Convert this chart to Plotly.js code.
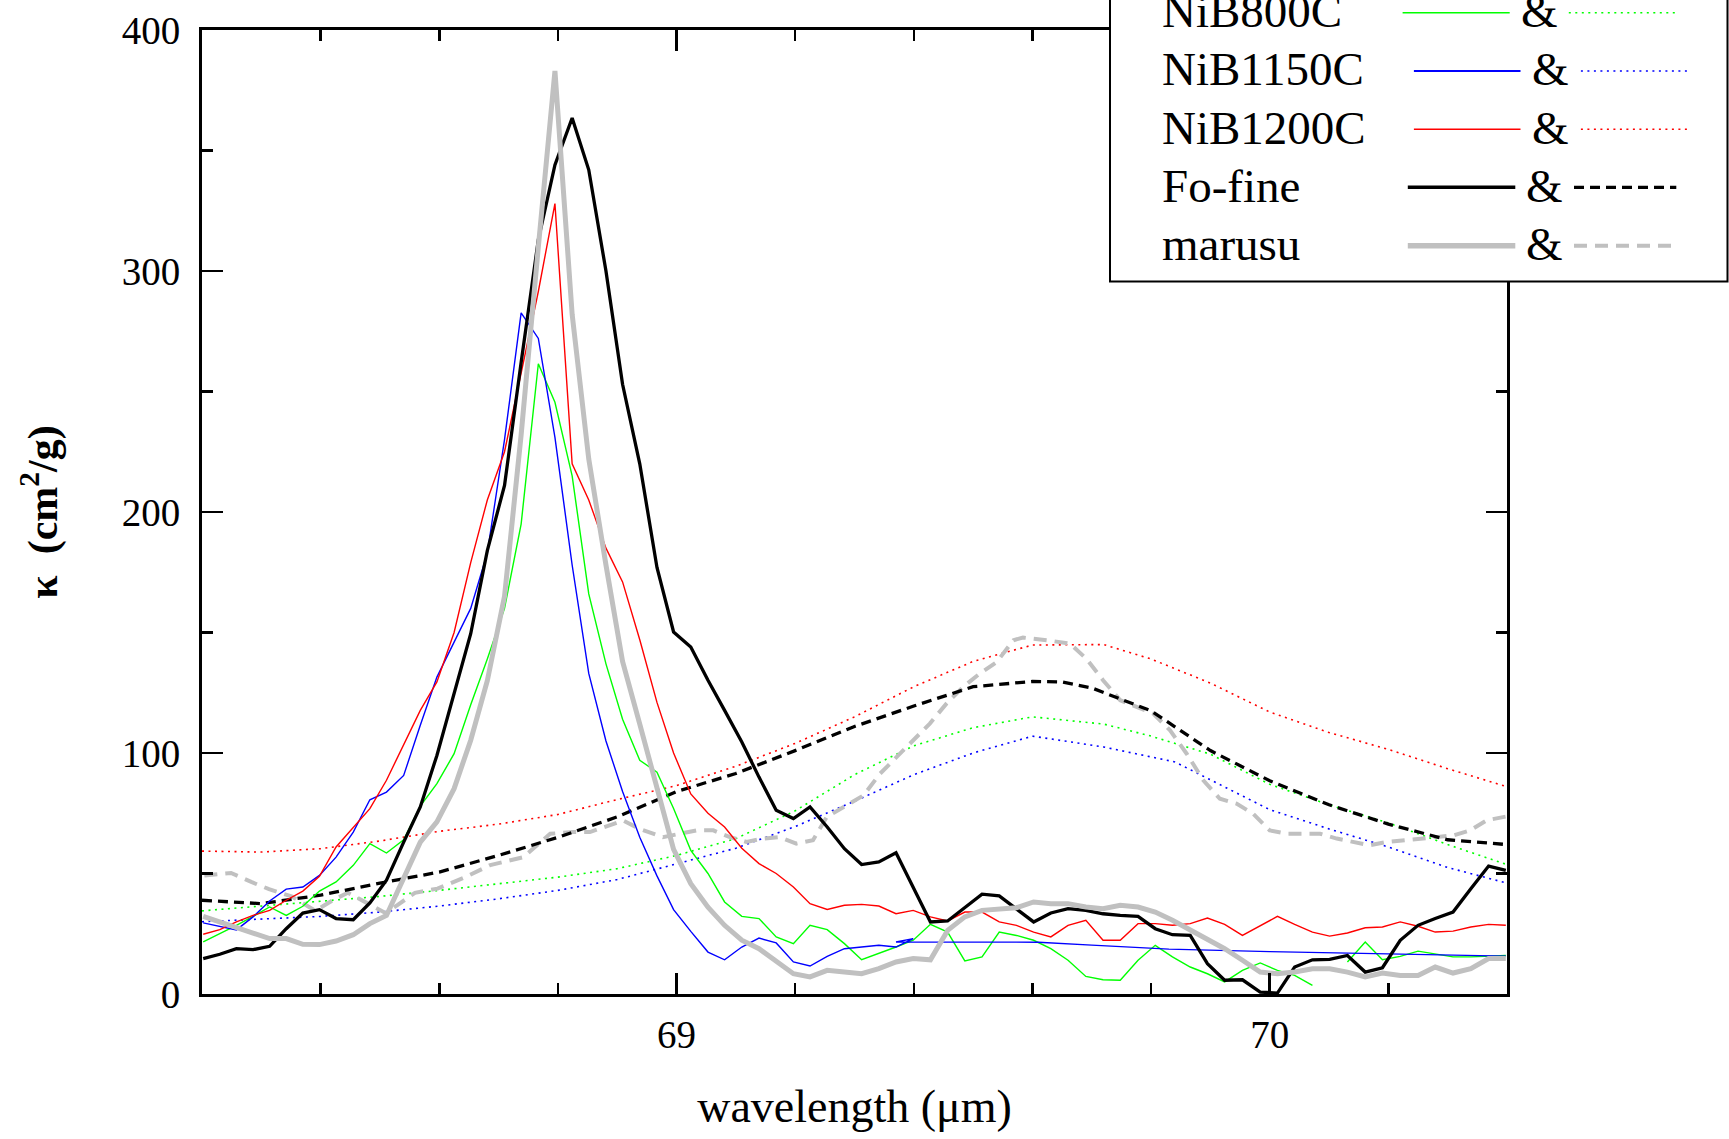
<!DOCTYPE html>
<html>
<head>
<meta charset="utf-8">
<script src="https://cdn.plot.ly/plotly-3.0.1.min.js"></script>
<style>html,body{margin:0;padding:0;background:#fff;}#chart{width:1729px;height:1139px;}</style>
</head>
<body>
<div id="chart"></div>
<script>
// ---------- data ----------
const seriesNames = ['NiB800C', 'NiB1150C', 'NiB1200C', 'Fo-fine', 'marusu'];

// common sampling of the measured spectra (µm)
const wavelength = [
  68.202, 68.230, 68.258, 68.286, 68.314, 68.342, 68.370, 68.398, 68.426, 68.455,
  68.483, 68.511, 68.540, 68.568, 68.596, 68.625, 68.653, 68.681, 68.710, 68.738,
  68.767, 68.795, 68.824, 68.852, 68.881, 68.909, 68.938, 68.967, 68.995, 69.024,
  69.053, 69.081, 69.110, 69.139, 69.168, 69.197, 69.225, 69.254, 69.283, 69.312,
  69.341, 69.370, 69.399, 69.428, 69.457, 69.486, 69.515, 69.544, 69.573, 69.602,
  69.631, 69.660, 69.690, 69.719, 69.748, 69.778, 69.807, 69.836, 69.866, 69.895,
  69.924, 69.954, 69.984, 70.013, 70.042, 70.072, 70.101, 70.131, 70.161, 70.190,
  70.220, 70.250, 70.279, 70.309, 70.339, 70.369, 70.398
];

const nib800Solid = [
  21.6, 25, 28.5, 32.2, 36.1, 32.6, 36.4, 42.7, 46.5, 53.4,
  62.4, 58.5, 64, 78, 87.3, 99.7, 120, 139, 160, 195,
  261.5, 245.5, 215, 166, 137, 114, 97, 92, 77, 59.6,
  50, 38.2, 32.2, 31.3, 23.7, 20.9, 28.5, 26.7, 20.9, 14.2,
  16.7, 19.5, 22.3, 28.9, 25.7, 13.7, 15.4, 25.7, 24.3, 22.3,
  18.8, 14, 7.3, 5.9, 5.7, 14, 20.2, 15.4, 11.2, 8.4,
  5, 9.8, 12.9, 9.8, 7.7, 3.6, null, 13.3, 21.6, 14.2,
  15.6, 17.8, 16.7, 15.4, 15.4, 15.6, 16
];

// NiB1150C: measured part on the common grid, then a coarse tail
const nib1150Solid = [
  29.5, 28.1, 26.6, 32, 38.6, 43.5, 44.4, 49.2, 56.8, 67.2,
  80.6, 83.8, 90.7, 111.5, 131.5, 146, 160, 183, 230, 282.6,
  272, 231, 178, 133, 105, 84, 65, 49, 35, 26,
  17.4, 14.2, 19.5, 23.2, 21.2, 13.3, 11.6, 15.6, 18.8, 19.5,
  20.2, 19.5, 23
];
const nib1150TailX = [69.370, 69.45, 69.61, 69.70, 69.83, 70.0, 70.2, 70.398];
const nib1150TailY = [21.6, 21.6, 21.5, 20.3, 18.6, 17.6, 16.8, 15.7];

const nib1200Solid = [
  24.8, 26.7, 29.9, 32.6, 34.7, 38.9, 42.7, 48.8, 61, 69.3,
  76.9, 88.7, 103.2, 117.7, 129.5, 150, 179, 205, 225, 258,
  291.5, 328, 220, 205, 185, 171, 147, 121, 100, 83,
  75, 69.3, 60.5, 54.1, 50, 44.4, 37.5, 35.1, 36.8, 37.2,
  36.5, 33.3, 34.7, 32, 30.3, 34, 34, 29.9, 28.5, 25.7,
  23.7, 28.5, 30.6, 22.3, 22.3, 29.2, 29.2, 28.5, 29.2, 31.5,
  28.9, 24.3, 28.2, 32.2, 28.9, 25.7, 24, 25.3, 27.5, 27.8,
  29.9, 28.1, 25.7, 26.1, 27.8, 28.9, 28.5
];

const foFineSolid = [
  14.7, 16.5, 18.8, 18.4, 19.8, 27.1, 33.6, 35.0, 31.3, 30.8,
  37.8, 47.2, 63, 77.6, 99, 124.6, 149.5, 184, 211, 262,
  313, 344, 363.5, 342, 300, 253, 220, 177, 150.2, 144,
  130.2, 117.7, 104.6, 90, 76.2, 72.8, 77.6, 69.3, 60.3, 53.7,
  54.8, 58.6, 44.4, 29.9, 30.3, 35.8, 41.4, 40.7, 35.4, 29.9,
  33.6, 35.4, 34.7, 33.3, 32.6, 32.2, 27.1, 24.6, 24.3, 12.6,
  5.7, 5.9, 0.8, 0.4, 11.2, 14.2, 14.4, 16, 9.1, 10.9,
  22.3, 28.5, 31.3, 34, 43.7, 53.1, 51.3
];

const marusuSolid = [
  32.2, 29.9, 27.1, 25, 23, 23, 20.6, 20.5, 22, 24.6,
  29.2, 32.6, 48.5, 63, 71.4, 85.2, 105.3, 130, 165, 232,
  310, 383, 282, 222, 178, 138, 112, 85, 60, 45.8,
  36, 28.5, 22.3, 18.8, 13.3, 8.4, 7.1, 9.8, 9.1, 8.4,
  10.5, 13.3, 14.7, 14.2, 26.4, 32, 34.7, 35.4, 35.8, 38.2,
  37.5, 37.5, 36.1, 35.4, 36.8, 36.1, 34, 30.6, 26.4, 22.3,
  18.8, 14, 9.1, 8.4, 9.1, 10.5, 10.5, 9.1, 7.1, 8.7,
  7.7, 7.7, 11.2, 8.7, 10.5, 14.7, 14.7
];

// dotted / dashed companion curves
const nib1200DotX = [68.2, 68.3, 68.4, 68.5, 68.6, 68.7, 68.8, 68.9, 69.0, 69.1, 69.2, 69.3, 69.4, 69.5, 69.6, 69.72, 69.8, 69.9, 70.0, 70.1, 70.2, 70.3, 70.4];
const nib1200DotY = [59.3, 58.9, 60.3, 63.5, 67.5, 70.5, 74.5, 80.7, 86.5, 94.5, 104, 115, 127.5, 138, 144.8, 145, 139, 129, 117, 108.5, 101.5, 93.5, 86];

const nib800DotX = [68.2, 68.3, 68.4, 68.5, 68.6, 68.7, 68.8, 68.9, 69.0, 69.1, 69.2, 69.3, 69.4, 69.5, 69.6, 69.72, 69.8, 69.9, 70.0, 70.1, 70.2, 70.3, 70.4];
const nib800DotY = [34.5, 36.5, 38.5, 40.5, 43, 45.8, 48.5, 52, 57.5, 64.5, 76, 91, 103, 110.5, 115, 112, 107, 99.5, 87, 78.5, 71, 62, 53.7];

const nib1150DotX = [68.2, 68.3, 68.4, 68.5, 68.6, 68.7, 68.8, 68.9, 69.0, 69.1, 69.2, 69.3, 69.4, 69.5, 69.6, 69.72, 69.84, 69.9, 70.0, 70.1, 70.2, 70.3, 70.4];
const nib1150DotY = [30, 31, 32.2, 34, 36.5, 39.5, 43, 47.5, 54, 60.5, 69.5, 80, 91, 100, 107, 102.5, 96.3, 89, 76.5, 68.5, 61, 52.5, 46];

const foFineDashX = [68.2, 68.3, 68.4, 68.5, 68.6, 68.7, 68.8, 68.9, 69.0, 69.1, 69.2, 69.3, 69.4, 69.5, 69.6, 69.65, 69.7, 69.8, 69.9, 70.0, 70.1, 70.2, 70.3, 70.4];
const foFineDashY = [38.9, 37.5, 41, 46, 50.6, 57.5, 65, 73.5, 84, 91.5, 101, 111, 119.5, 127.5, 129.7, 129.5, 127, 117.5, 101, 88.5, 78.5, 70.5, 64, 62];

const marusuDashX = [
  68.204, 68.249, 68.283, 68.313, 68.351, 68.391, 68.421, 68.446, 68.480, 68.510,
  68.530, 68.559, 68.597, 68.644, 68.686, 68.742, 68.787, 68.826, 68.854, 68.882,
  68.910, 68.938, 68.977, 69.034, 69.062, 69.090, 69.118, 69.146, 69.174, 69.202,
  69.230, 69.253, 69.287, 69.315, 69.343, 69.371, 69.399, 69.427, 69.455, 69.483,
  69.511, 69.540, 69.568, 69.584, 69.624, 69.663, 69.691, 69.719, 69.748, 69.776,
  69.804, 69.832, 69.860, 69.888, 69.916, 69.944, 69.972, 70.000, 70.029, 70.057,
  70.085, 70.113, 70.141, 70.169, 70.197, 70.225, 70.282, 70.310, 70.338, 70.366,
  70.400
];
const marusuDashY = [
  49.2, 50.2, 46.5, 43.5, 40.5, 34.5, 39, 42, 37.5, 33.5,
  37, 42, 43.7, 48.5, 53.5, 56.8, 66.5, 67.2, 67.2, 69.5,
  72, 68.5, 65.1, 67.9, 67.9, 65.1, 63.1, 64.5, 65.1, 62.4,
  63.8, 73.4, 78.3, 82.4, 91.4, 98.3, 105.3, 112.2, 120.5, 127.4,
  132.9, 137.8, 146.8, 147.9, 146.8, 145.4, 139.1, 130.2, 121.9, 119.1,
  116.3, 109.4, 99.7, 88.7, 81, 79, 74.8, 67.9, 66.5, 66.5,
  66.5, 64.5, 63.1, 61.7, 63.1, 63.8, 64.9, 65.8, 67.9, 72.1,
  73.7
];

// ---------- styles ----------
const GREEN = '#00ff00', BLUE = '#0000ff', RED = '#ff0000', BLACK = '#000000', GREY = '#c0c0c0';
const DOT = '2px,4.5px';
const FO_DASH = '10px,6px';
const MA_DASH = '13px,8px';
const FONT = 'Liberation Serif, Times New Roman, serif';

function line(x, y, color, width, dash, name) {
  return {x: x, y: y, type: 'scatter', mode: 'lines', name: name, hoverinfo: 'skip',
          line: {color: color, width: width, dash: dash || 'solid'}, connectgaps: false};
}

const traces = [
  line(nib1200DotX, nib1200DotY, RED, 1.6, DOT, seriesNames[2] + ' dotted'),
  line(nib800DotX, nib800DotY, GREEN, 1.6, DOT, seriesNames[0] + ' dotted'),
  line(nib1150DotX, nib1150DotY, BLUE, 1.6, DOT, seriesNames[1] + ' dotted'),
  line(marusuDashX, marusuDashY, GREY, 4, MA_DASH, seriesNames[4] + ' dashed'),
  line(foFineDashX, foFineDashY, BLACK, 3.3, FO_DASH, seriesNames[3] + ' dashed'),
  line(wavelength, nib800Solid, GREEN, 1.4, null, seriesNames[0]),
  line(wavelength.slice(0, nib1150Solid.length).concat(nib1150TailX), nib1150Solid.concat(nib1150TailY), BLUE, 1.4, null, seriesNames[1]),
  line(wavelength, nib1200Solid, RED, 1.4, null, seriesNames[2]),
  line(wavelength, foFineSolid, BLACK, 3.3, null, seriesNames[3]),
  line(wavelength, marusuSolid, GREY, 5, null, seriesNames[4])
];

// ---------- custom legend (solid & dotted samples) ----------
const M = {l: 202, r: 222, t: 30, b: 145};
const W = 1729, H = 1139;
const PW = W - M.l - M.r, PH = H - M.t - M.b;
const px = X => (X - M.l) / PW;
const py = Y => (H - M.b - Y) / PH;

const legendRows = [
  {Y: 12.7,  solid: [1402.6, 1509.7], amp: 1539.0, dot: [1568.8, 1677.5], color: GREEN, w: 1.6, sw: 1.6, dash: DOT},
  {Y: 71.0,  solid: [1413.9, 1520.5], amp: 1550.7, dot: [1580.9, 1688.3], color: BLUE,  w: 2.2, sw: 1.6, dash: DOT},
  {Y: 129.3, solid: [1413.9, 1520.5], amp: 1550.7, dot: [1580.9, 1688.3], color: RED,   w: 1.6, sw: 1.6, dash: DOT},
  {Y: 187.3, solid: [1407.8, 1515.3], amp: 1544.7, dot: [1574.0, 1676.3], color: BLACK, w: 3.6, sw: 3.3, dash: FO_DASH},
  {Y: 245.7, solid: [1407.8, 1515.3], amp: 1544.7, dot: [1574.0, 1676.3], color: GREY,  w: 5.5, sw: 4,   dash: MA_DASH}
];

const shapes = [{
  type: 'rect', xref: 'paper', yref: 'paper', layer: 'above',
  x0: px(1110), x1: px(1727.5), y0: py(281.5), y1: py(-20),
  fillcolor: 'white', line: {color: 'black', width: 2}
}];
const annotations = [];
legendRows.forEach((r, i) => {
  shapes.push({type: 'line', xref: 'paper', yref: 'paper', layer: 'above',
    x0: px(r.solid[0]), x1: px(r.solid[1]), y0: py(r.Y), y1: py(r.Y),
    line: {color: r.color, width: r.w}});
  shapes.push({type: 'line', xref: 'paper', yref: 'paper', layer: 'above',
    x0: px(r.dot[0]), x1: px(r.dot[1]), y0: py(r.Y), y1: py(r.Y),
    line: {color: r.color, width: r.sw, dash: r.dash}});
  annotations.push({xref: 'paper', yref: 'paper', x: px(1160), y: py(r.Y - 1.5), xanchor: 'left', yanchor: 'middle',
    text: seriesNames[i], showarrow: false, font: {family: FONT, size: 47, color: 'black'}});
  annotations.push({xref: 'paper', yref: 'paper', x: px(r.amp), y: py(r.Y - 1.5), xanchor: 'center', yanchor: 'middle',
    text: '&amp;', showarrow: false, font: {family: FONT, size: 47, color: 'black'}});
});

const axisCommon = {
  showline: true, linecolor: 'black', linewidth: 3, mirror: 'allticks',
  showgrid: false, zeroline: false, ticks: 'inside', tickcolor: 'black', tickwidth: 2.5, ticklen: 21,
  tickfont: {family: FONT, size: 39, color: 'black'}
};

const layout = {
  width: W, height: H, margin: M,
  paper_bgcolor: 'white', plot_bgcolor: 'white', showlegend: false,
  font: {family: FONT, color: 'black'},
  xaxis: Object.assign({}, axisCommon, {
    range: [68.2, 70.4], tick0: 69, dtick: 1, ticklabelstandoff: 4,
    minor: {tick0: 68.2, dtick: 0.2, ticks: 'inside', ticklen: 11, tickwidth: 2.5, tickcolor: 'black', showgrid: false},
    title: {text: 'wavelength (μm)', font: {family: FONT, size: 46, color: 'black'}, standoff: 36}
  }),
  yaxis: Object.assign({}, axisCommon, {
    range: [0, 400], tick0: 0, dtick: 100, ticklabelstandoff: 11,
    minor: {tick0: 0, dtick: 50, ticks: 'inside', ticklen: 11, tickwidth: 2.5, tickcolor: 'black', showgrid: false},
    title: {text: '<b>κ  (cm<sup>2</sup>/g)</b>', font: {family: FONT, size: 42, color: 'black'}, standoff: 52}
  }),
  shapes: shapes,
  annotations: annotations
};

Plotly.newPlot('chart', traces, layout, {staticPlot: true, displayModeBar: false});
</script>
</body>
</html>
